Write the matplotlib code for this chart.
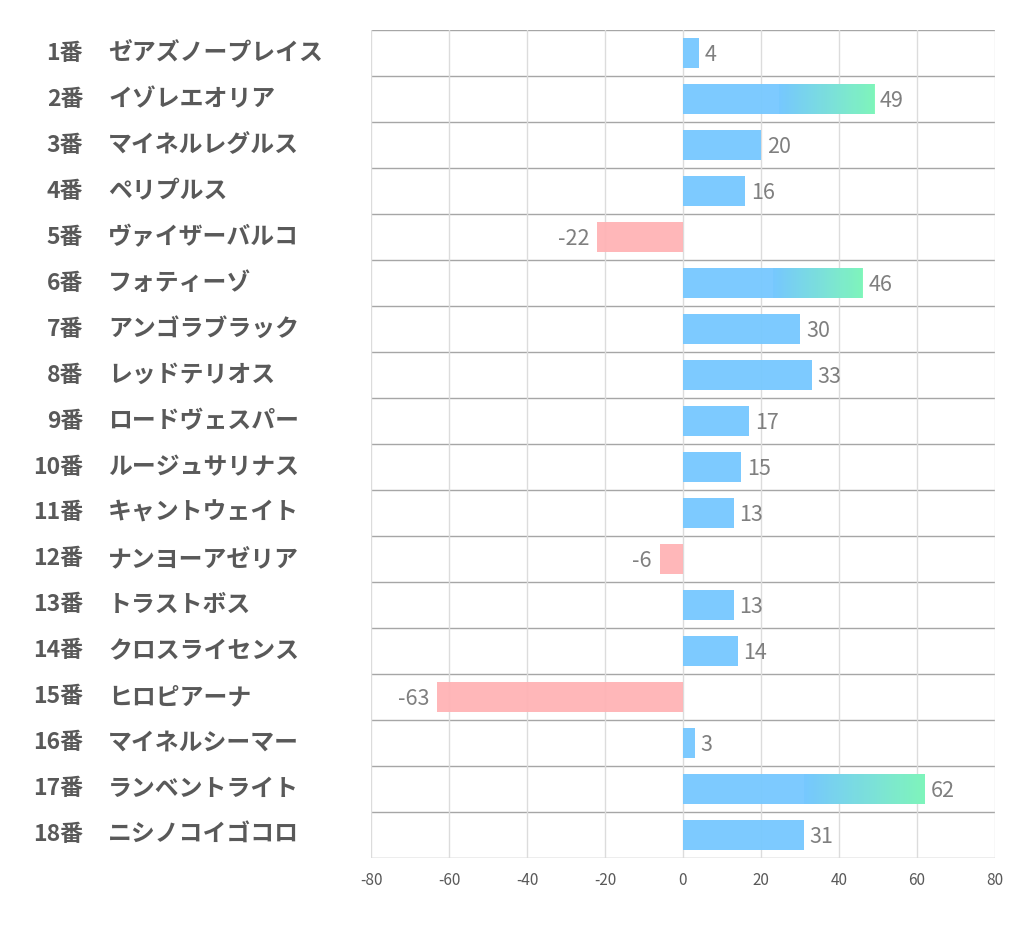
import matplotlib.pyplot as plt
import numpy as np
from matplotlib.colors import LinearSegmentedColormap

plt.rcParams['font.family'] = ['Noto Sans CJK JP', 'DejaVu Sans']
plt.rcParams['axes.unicode_minus'] = False

numbers = ['1番', '2番', '3番', '4番', '5番', '6番', '7番', '8番', '9番',
           '10番', '11番', '12番', '13番', '14番', '15番', '16番', '17番', '18番']
names = ['ゼアズノープレイス', 'イゾレエオリア', 'マイネルレグルス', 'ペリプルス',
         'ヴァイザーバルコ', 'フォティーゾ', 'アンゴラブラック', 'レッドテリオス',
         'ロードヴェスパー', 'ルージュサリナス', 'キャントウェイト', 'ナンヨーアゼリア',
         'トラストボス', 'クロスライセンス', 'ヒロピアーナ', 'マイネルシーマー',
         'ランベントライト', 'ニシノコイゴコロ']
values = [4, 49, 20, 16, -22, 46, 30, 33, 17, 15, 13, -6, 13, 14, -63, 3, 62, 31]

blue = '#76c8ff'
pink = '#ffb3b5'
green = '#80f8b8'
text_gray = '#595959'

fig = plt.figure(figsize=(10.21, 9.39), dpi=100)
ax = fig.add_axes([0.3634, 0.0863, 0.6111, 0.8817])

y = np.arange(len(values))
colors = [blue if v >= 0 else pink for v in values]
bars = ax.barh(y, values, height=0.67, color=colors, alpha=0.95, zorder=2)

# gradient on the outer half of the long bars
cmap = LinearSegmentedColormap.from_list('bg', [blue, green])
grad = np.linspace(0, 1, 256).reshape(1, -1)
for b, v in zip(bars, values):
    if v > 40:
        im = ax.imshow(grad, cmap=cmap, aspect='auto', zorder=3, alpha=0.95,
                       extent=[v / 2, v, b.get_y() + b.get_height(), b.get_y()])
        im.set_clip_path(b)

for yi, v in zip(y, values):
    if v >= 0:
        ax.text(v + 1.5, yi + 0.05, str(v), va='center', ha='left',
                fontsize=15.5, color='#7f7f7f')
    else:
        ax.text(v - 2.0, yi + 0.05, str(v), va='center', ha='right',
                fontsize=15.5, color='#7f7f7f')

ax.set_xlim(-80, 80)
ax.set_ylim(len(values) - 0.5, -0.5)
ax.set_xticks(np.arange(-80, 81, 20))
ax.tick_params(axis='x', length=0, labelsize=11, labelcolor=text_gray, pad=10)
ax.set_yticks([])
ax.grid(axis='x', color='#dcdcdc', linewidth=1, zorder=0)
for i in range(len(values) + 1):
    ax.axhline(i - 0.5, color='#a6a6a6', linewidth=1, zorder=1)
for s in ax.spines.values():
    s.set_visible(False)

for yi, n, nm in zip(y, numbers, names):
    ax.text(-0.4615, yi, n, transform=ax.get_yaxis_transform(), ha='right',
            va='center', fontsize=16.5, fontweight='bold', color=text_gray)
    ax.text(-0.4215, yi, nm, transform=ax.get_yaxis_transform(), ha='left',
            va='center', fontsize=17.2, fontweight='bold', color=text_gray)

fig.savefig('out.png', dpi=100)
